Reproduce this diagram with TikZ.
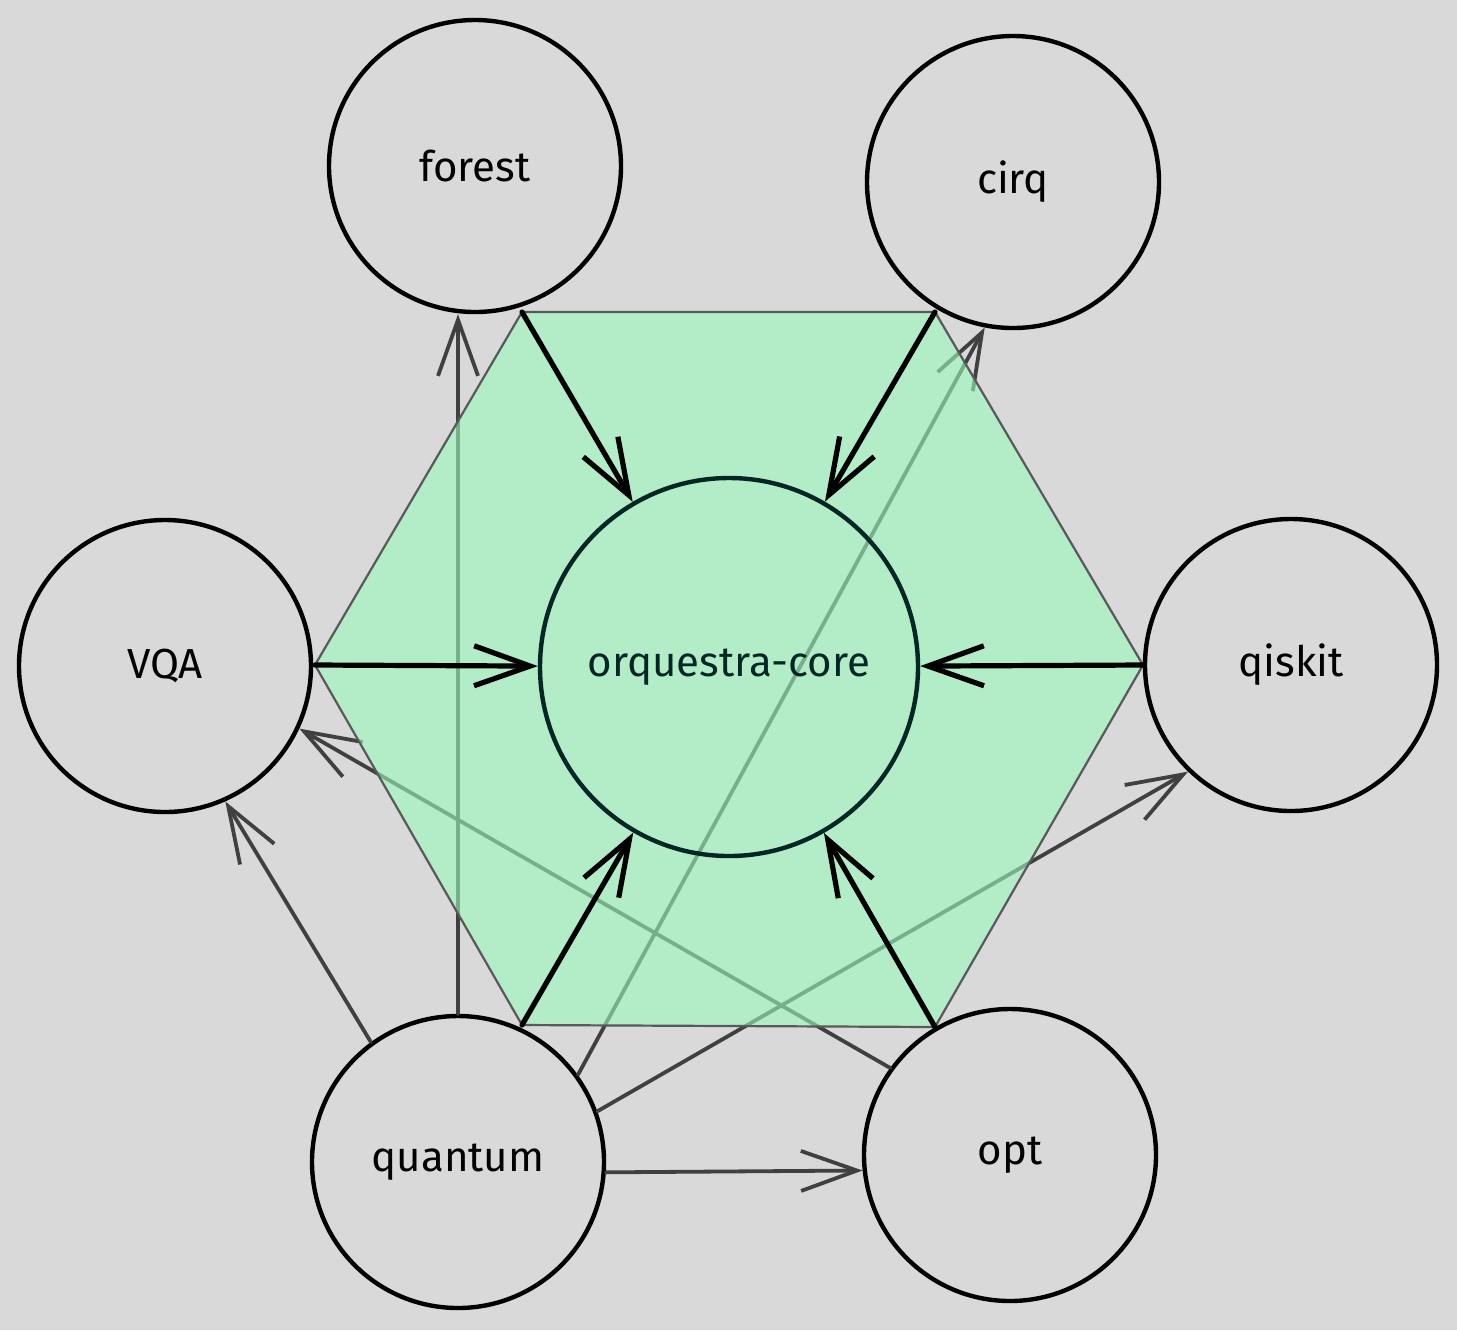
\documentclass[tikz,border=0pt]{standalone}
\usepackage{fontspec}
\setmainfont{Fira Sans}
\usetikzlibrary{arrows.meta}

\definecolor{bggrey}{RGB}{217,217,217}
\definecolor{hexgreen}{RGB}{153,251,189}
\definecolor{depgrey}{RGB}{64,64,64}
\definecolor{coredark}{RGB}{0,38,38}

\tikzset{
  pkg/.style={circle, draw=black, line width=2.2pt, minimum size=146pt, inner sep=0pt,
    font=\fontsize{21}{25}\selectfont},
  dep/.style={draw=depgrey, line width=1.9pt, line cap=round,
    -{Straight Barb[length=28pt,width=20pt]}},
  feed/.style={draw=black, line width=2.6pt, line cap=round,
    -{Straight Barb[length=28pt,width=20pt]}},
  hexcore/.style={draw=black!65, line width=1.1pt, fill=hexgreen, fill opacity=0.6},
}

\begin{document}
\begin{tikzpicture}[x=0.5pt,y=0.5pt,yscale=-1,xscale=1]
    \useasboundingbox (0,0) rectangle (1457,1330);
    %Shape: Background
    \fill[bggrey] (0,0) rectangle (1457,1330);

    %Shape: Circle [forest]
    \node[pkg] (forest) at (475,166) {forest};
    %Shape: Circle [cirq]
    \node[pkg] (cirq) at (1013,182) {cirq};
    %Shape: Circle [VQA]
    \node[pkg] (vqa) at (165,666) {VQA};
    %Shape: Circle [qiskit]
    \node[pkg] (qiskit) at (1291,665) {qiskit};
    %Shape: Circle [quantum]
    \node[pkg] (quantum) at (458,1162) {quantum};
    %Shape: Circle [opt]
    \node[pkg] (opt) at (1010,1155) {opt};

    %Straight Lines [quantum deps]
    \draw[dep] (quantum.north) -- (quantum.north |- forest.south);
    \draw[dep] (quantum.126) -- (vqa.-66);
    \draw[dep] (quantum.36) -- (cirq.259);
    \draw[dep] (quantum.20) -- (qiskit.226);
    \draw[dep] (quantum.-4) -- (opt.186);
    %Straight Lines [opt deps]
    \draw[dep] (opt.144) -- (vqa.-25);

    %Shape: Hexagon
    \coordinate (h1) at (522,312);
    \coordinate (h2) at (935,312);
    \coordinate (h3) at (1143,665);
    \coordinate (h4) at (935,1027);
    \coordinate (h5) at (522,1025);
    \coordinate (h6) at (315,665);
    \draw[hexcore] (h1) -- (h2) -- (h3) -- (h4) -- (h5) -- (h6) -- cycle;

    %Shape: Circle [core]
    \node[pkg, draw=coredark, text=coredark, minimum size=189pt] (core) at (729,667) {orquestra-core};

    %Straight Lines [into core]
    \foreach \i in {1,...,6}
      \draw[feed] (h\i) -- (core);

\end{tikzpicture}
\end{document}
